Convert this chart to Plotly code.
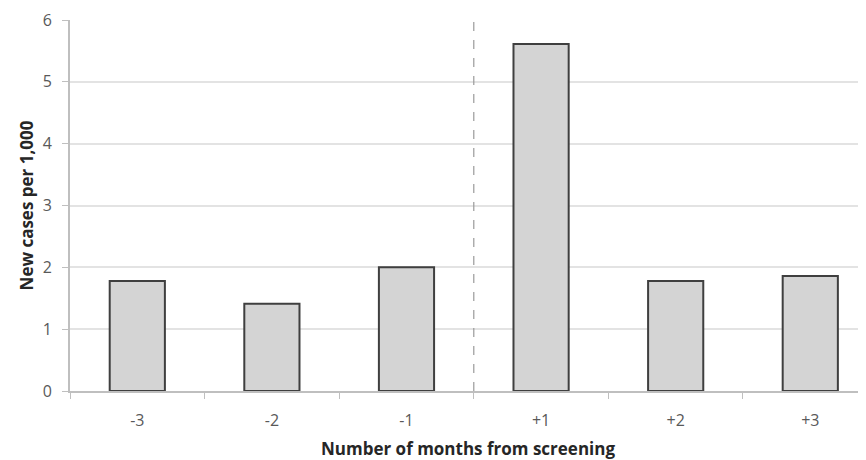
import plotly.graph_objects as go

categories = ["-3", "-2", "-1", "+1", "+2", "+3"]
new_cases = [1.78, 1.41, 2.0, 5.61, 1.78, 1.86]
y_ticks = [0, 1, 2, 3, 4, 5, 6]
screening_boundary = 2.5

fig = go.Figure()
fig.add_trace(go.Bar(
    x=categories, y=new_cases, width=0.41,
    marker=dict(color="#d4d4d4", line=dict(color="#3f3f3f", width=2)),
))
fig.add_shape(type="line", xref="x", yref="paper", x0=screening_boundary, x1=screening_boundary,
              y0=0, y1=1, line=dict(color="#9a9a9a", width=1.2, dash="dash"))

font = "Open Sans"
fig.update_layout(
    width=858, height=452,
    margin=dict(l=62, r=0, t=12, b=69),
    paper_bgcolor="white", plot_bgcolor="white",
    showlegend=False,
    font=dict(family=font, color="#595959", size=16),
    xaxis=dict(
        type="category", range=[-0.5, 5.414], automargin=False,
        showline=True, linecolor="#bfbfbf", linewidth=2,
        ticks="outside", tickson="boundaries", ticklen=6, tickcolor="#bfbfbf", tickwidth=1,
        ticklabelstandoff=14,
        showgrid=False,
        tickfont=dict(size=16, color="#595959"),
        title=dict(text="<b>Number of months from screening</b>", font=dict(size=17, color="#262626"), standoff=15),
    ),
    yaxis=dict(
        range=[0, 6], tickvals=y_ticks, automargin=False,
        showline=True, linecolor="#bfbfbf", linewidth=2,
        ticks="outside", ticklen=6, tickcolor="#bfbfbf",
        ticklabelstandoff=7,
        showgrid=True, gridcolor="#e3e3e3", gridwidth=1.5,
        zeroline=False,
        tickfont=dict(size=16, color="#595959"),
        title=dict(text="<b>New cases per 1,000</b>", font=dict(size=17, color="#262626"), standoff=5),
    ),
)
fig.write_html("out.html")
